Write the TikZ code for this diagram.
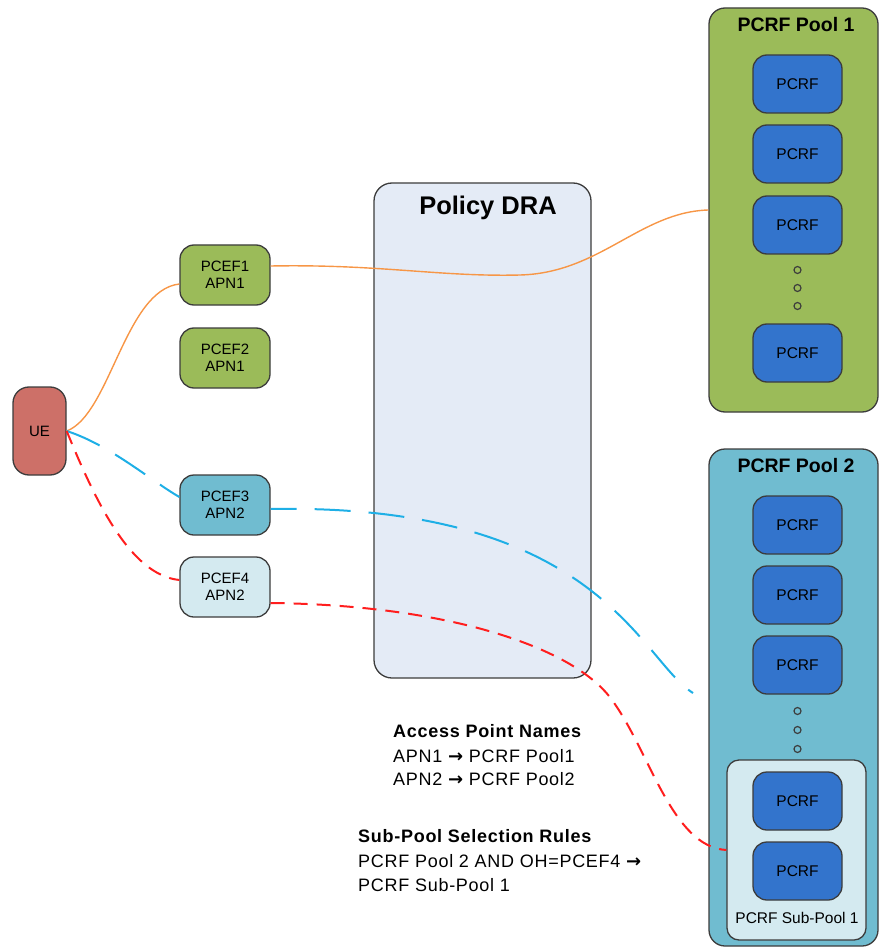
\documentclass[tikz,border=0pt]{standalone}
\usepackage{fontspec}
\setmainfont{Liberation Sans}
\newfontfamily\legendfont[LetterSpace=4]{Liberation Sans}
\newfontfamily\arrowfont{DejaVu Sans}
\usetikzlibrary{calc}

\definecolor{uefill}{RGB}{205,112,104}
\definecolor{greenfill}{RGB}{155,187,89}
\definecolor{bluefill}{RGB}{112,188,208}
\definecolor{palefill}{RGB}{212,234,240}
\definecolor{drafill}{RGB}{228,235,246}
\definecolor{pcrffill}{RGB}{51,116,204}
\definecolor{edgegray}{RGB}{60,60,60}
\definecolor{orangeline}{RGB}{247,150,70}
\definecolor{cyanline}{RGB}{30,175,230}
\definecolor{redline}{RGB}{255,30,30}

\newcommand{\rarrow}{{\arrowfont\bfseries →}}

\tikzset{
  box/.style={draw=edgegray, line width=1.3pt, rounded corners=14pt, inner sep=0pt,
              align=center, font=\fontsize{15}{17}\selectfont},
  pcef/.style={box, minimum width=90pt, minimum height=60pt},
  pcrf/.style={box, fill=pcrffill, minimum width=89pt, minimum height=58pt,
               font=\fontsize{15.5}{17}\selectfont},
  pool/.style={box, minimum width=169pt, rounded corners=16pt},
  title/.style={font=\bfseries\fontsize{19.5}{21}\selectfont, inner sep=0pt},
  legend/.style={anchor=west, inner sep=0pt, font=\legendfont\fontsize{18}{20}\selectfont},
  legendhead/.style={legend, font=\legendfont\bfseries\fontsize{18}{20}\selectfont},
  dot/.style={circle, draw=edgegray, line width=1.2pt, minimum size=7pt, inner sep=0pt},
  link/.style={line width=1.4pt, orangeline},
  bluelink/.style={line width=2pt, cyanline, dash pattern=on 36pt off 18pt},
  redlink/.style={line width=2pt, redline, dash pattern=on 14pt off 9pt}
}

\begin{document}
\begin{tikzpicture}[x=1pt, y=-1pt]
\useasboundingbox (0,0) rectangle (880,949);

% Policy DRA
\node[box, fill=drafill, rounded corners=18pt, minimum width=217pt, minimum height=495pt] (dra) at (482.5,430.5) {};
\node[title, font=\bfseries\fontsize{25.5}{27}\selectfont] (dratitle) at (488,208) {Policy DRA};

% PCRF Pool 1
\node[pool, fill=greenfill, minimum height=404pt] (pool1) at (793.5,210) {};
\node[title] (pool1title) at (796,25) {PCRF Pool 1};
\node[pcrf] (p1a) at (797.5,84) {PCRF};
\node[pcrf] (p1b) at (797.5,154) {PCRF};
\node[pcrf] (p1c) at (797.5,225) {PCRF};
\node[dot] (p1d1) at (797.5,270) {};
\node[dot] (p1d2) at (797.5,288) {};
\node[dot] (p1d3) at (797.5,306) {};
\node[pcrf] (p1d) at (797.5,353) {PCRF};

% PCRF Pool 2 with its sub-pool
\node[pool, fill=bluefill, minimum height=497pt] (pool2) at (793.5,697.5) {};
\node[title] (pool2title) at (796,466) {PCRF Pool 2};
\node[pcrf] (p2a) at (797.5,525) {PCRF};
\node[pcrf] (p2b) at (797.5,595) {PCRF};
\node[pcrf] (p2c) at (797.5,665) {PCRF};
\node[dot] (p2d1) at (797.5,711) {};
\node[dot] (p2d2) at (797.5,730) {};
\node[dot] (p2d3) at (797.5,749) {};
\node[box, fill=palefill, rounded corners=12pt, minimum width=139pt, minimum height=180pt] (subpool) at (796.5,850) {};
\node[pcrf] (s1) at (797.5,801) {PCRF};
\node[pcrf] (s2) at (797.5,871) {PCRF};
\node[inner sep=0pt, font=\fontsize{15.5}{17}\selectfont] (subtitle) at (797,918) {PCRF Sub-Pool 1};

% UE and PCEFs
\node[box, fill=uefill, rounded corners=16pt, minimum width=53pt, minimum height=88pt] (ue) at (39.5,431) {UE};
\node[pcef, fill=greenfill] (pcef1) at (225,275) {PCEF1\\APN1};
\node[pcef, fill=greenfill] (pcef2) at (225,358) {PCEF2\\APN1};
\node[pcef, fill=bluefill] (pcef3) at (225,505) {PCEF3\\APN2};
\node[pcef, fill=palefill] (pcef4) at (225,587) {PCEF4\\APN2};

% Legend
\node[legendhead] (apnhead) at (393,731) {Access Point Names};
\node[legend] (apn1) at (393,756) {APN1 \rarrow{} PCRF Pool1};
\node[legend] (apn2) at (393,779) {APN2 \rarrow{} PCRF Pool2};
\node[legendhead] (rulehead) at (358,836) {Sub-Pool Selection Rules};
\node[legend] (rule1) at (358,861) {PCRF Pool 2 AND OH=PCEF4 \rarrow};
\node[legend] (rule2) at (358,885) {PCRF Sub-Pool 1};

% Connectors
\coordinate (blueend) at (693,693);
\coordinate (redmid) at (612,700);

\draw[link] (ue.east) .. controls (110,415) and (125,290) .. ($(pcef1.west)+(0,9)$);
\draw[link] ($(pcef1.east)+(0,-9)$) .. controls (380,264) and (440,277) .. (520,275)
            .. controls (600,273) and (640,212) .. (pool1.west);

\draw[bluelink] (ue.east) .. controls (110,445) and (150,480) .. ($(pcef3.west)+(0,-8)$);
\draw[bluelink, dash phase=10pt] ($(pcef3.east)+(0,4)$) .. controls (600,503) and (640,660) .. (blueend);

\draw[redlink] (ue.east) .. controls (95,500) and (130,575) .. ($(pcef4.west)+(0,-7)$);
\draw[redlink] ($(pcef4.east)+(0,16)$) .. controls (450,605) and (575,648) .. (redmid)
               .. controls (650,752) and (672,847) .. (subpool.west);
\end{tikzpicture}
\end{document}
